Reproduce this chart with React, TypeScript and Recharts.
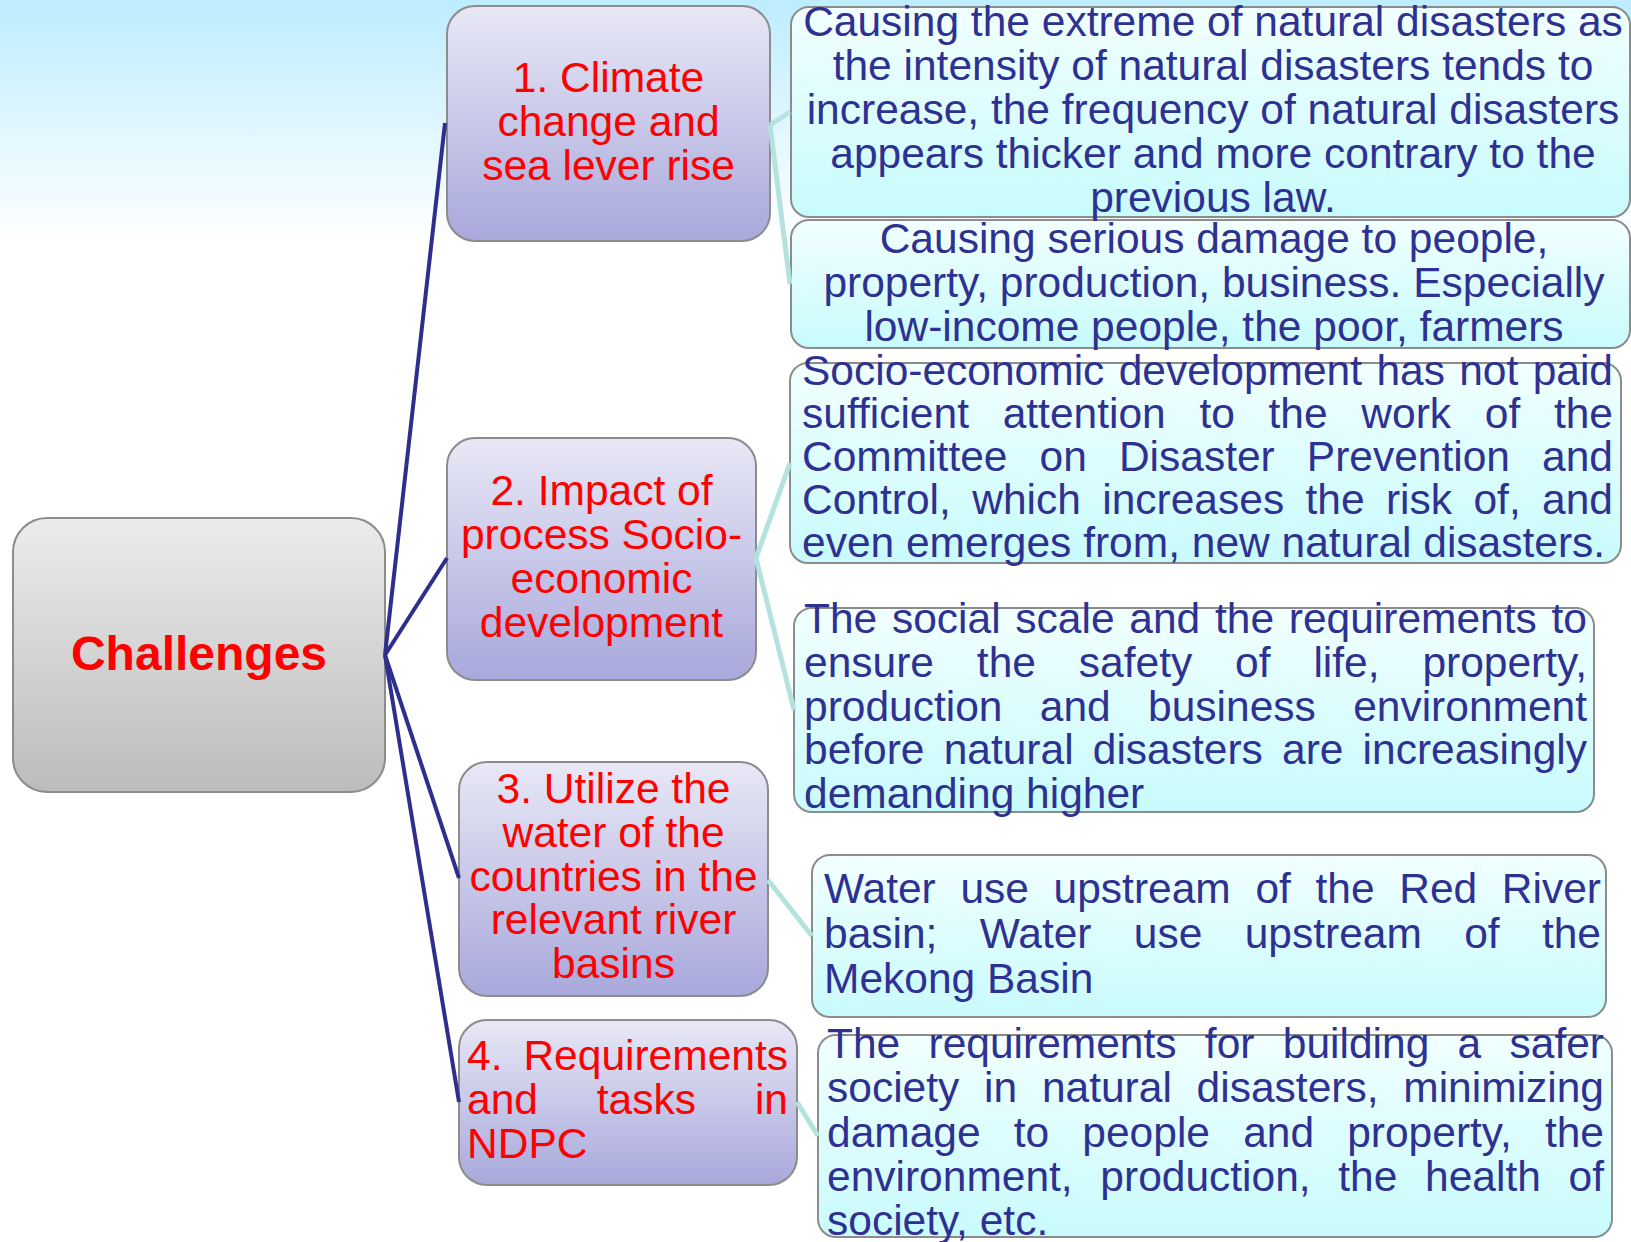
import { ComposedChart, XAxis, YAxis, ReferenceArea, ReferenceLine, Scatter } from 'recharts'

const W = 1631
const H = 1242
const FONT = '"Liberation Sans", Arial, sans-serif'
const SIZE = 42.5
const ROOT_SIZE = 48

const rootLabel = 'Challenges'

const branchLines = [
  ['1. Climate', 'change and', 'sea lever rise'],
  ['2. Impact of', 'process Socio-', 'economic', 'development'],
  ['3. Utilize the', 'water of the', 'countries in the', 'relevant river', 'basins'],
  ['4. Requirements', 'and tasks in', 'NDPC'],
]

const detailLines = [
  [
    'Causing the extreme of natural disasters as',
    'the intensity of natural disasters tends to',
    'increase, the frequency of natural disasters',
    'appears thicker and more contrary to the',
    'previous law.',
  ],
  [
    'Causing serious damage to people,',
    'property, production, business. Especially',
    'low-income people, the poor, farmers',
  ],
  [
    'Socio-economic development has not paid',
    'sufficient attention to the work of the',
    'Committee on Disaster Prevention and',
    'Control, which increases the risk of, and',
    'even emerges from, new natural disasters.',
  ],
  [
    'The social scale and the requirements to',
    'ensure the safety of life, property,',
    'production and business environment',
    'before natural disasters are increasingly',
    'demanding higher',
  ],
  [
    'Water use upstream of the Red River',
    'basin; Water use upstream of the',
    'Mekong Basin',
  ],
  [
    'The requirements for building a safer',
    'society in natural disasters, minimizing',
    'damage to people and property, the',
    'environment, production, the health of',
    'society, etc.',
  ],
]

// which branch each detail hangs from
const detailParent = [0, 0, 1, 1, 2, 3]

// layout in chart units (domain is the page in px)
const rootBox = [13, 385, 518, 792]
const branchBoxes = [
  [447, 770, 6, 241],
  [447, 756, 438, 680],
  [459, 768, 762, 996],
  [459, 797, 1020, 1185],
]
const detailBoxes = [
  [791, 1630, 7, 217],
  [791, 1630, 220, 348],
  [790, 1621, 363, 563],
  [794, 1594, 608, 812],
  [812, 1606, 855, 1017],
  [818, 1612, 1035, 1237],
]
// text blocks: left, right, first baseline, last baseline, align
const rootText = [13, 385, 670, 670, 'center']
const branchText = [
  [447, 770, 92, 180, 'center'],
  [447, 756, 505, 637, 'center'],
  [459, 768, 803, 978, 'center'],
  [467, 788, 1070, 1158, 'justify'],
]
const detailText = [
  [796, 1630, 36, 212, 'center'],
  [798, 1630, 253, 341, 'center'],
  [802, 1613, 385, 557, 'justify'],
  [804, 1587, 633, 808, 'justify'],
  [824, 1601, 903, 993, 'justify'],
  [827, 1604, 1058, 1235, 'justify'],
]
// connector anchors
const rootOut = { x: 385, y: 655 }
const branchIn = [
  { x: 445, y: 123 },
  { x: 447, y: 558 },
  { x: 459, y: 878 },
  { x: 459, y: 1102 },
]
const branchOut = [
  { x: 770, y: 125 },
  { x: 756, y: 558 },
  { x: 768, y: 880 },
  { x: 797, y: 1102 },
]
const detailIn = [
  { x: 790, y: 112 },
  { x: 790, y: 284 },
  { x: 790, y: 463 },
  { x: 794, y: 710 },
  { x: 812, y: 936 },
  { x: 818, y: 1136 },
]

const ctx = document.createElement('canvas').getContext('2d')
const measure = (s: string, weight: string, size: number) => {
  if (!ctx) return s.length * size * 0.5
  ctx.font = `${weight} ${size}px "Liberation Sans"`
  return ctx.measureText(s).width
}

const boxShape = (kind: string, id: string) => (p: any) => {
  const { x, y, width, height } = p
  const stops =
    kind === 'root' ? ['#ececec', '#bcbcbc'] :
    kind === 'branch' ? ['#e8e8f6', '#a8a8dc'] :
    kind === 'bg' ? ['#bdedff', '#ffffff'] :
    ['#f2ffff', '#c8fbfd']
  const r = kind === 'root' ? 34 : kind === 'branch' ? 28 : 18
  return (
    <g>
      <defs>
        <linearGradient id={id} x1="0" y1="0" x2="0" y2="1">
          <stop offset="0%" stopColor={stops[0]} />
          <stop offset="100%" stopColor={stops[1]} />
        </linearGradient>
      </defs>
      {kind === 'bg' ? (
        <rect x={x} y={y} width={width} height={height} fill={`url(#${id})`} />
      ) : (
        <rect x={x} y={y} width={width} height={height} rx={r} ry={r}
          fill={`url(#${id})`} stroke="#8c8c8c" strokeWidth={2} />
      )}
    </g>
  )
}

const textShape = (lines: string[], align: string, color: string, weight = 'normal', size = SIZE) => (p: any) => {
  const { x, y, width, height } = p
  const step = lines.length > 1 ? height / (lines.length - 1) : 0
  return (
    <g fontFamily={FONT} fontSize={size} fontWeight={weight} fill={color}>
      {lines.map((line, i) => {
        const by = y + i * step
        if (align === 'center') {
          return <text key={i} x={x + width / 2} y={by} textAnchor="middle">{line}</text>
        }
        const words = line.split(' ')
        if (i === lines.length - 1 || words.length < 2) {
          return <text key={i} x={x} y={by}>{line}</text>
        }
        const ws = words.map((w) => measure(w, weight, size))
        const gap = (width - ws.reduce((a, b) => a + b, 0)) / (words.length - 1)
        let cx = x
        return (
          <g key={i}>
            {words.map((w, j) => {
              const el = <text key={j} x={cx} y={by}>{w}</text>
              cx += ws[j] + gap
              return el
            })}
          </g>
        )
      })}
    </g>
  )
}

const anchors = [rootOut, ...branchIn, ...branchOut, ...detailIn]

export default function App() {
  return (
    <div>
      <style>{'body{margin:0;background:#fff}'}</style>
      <ComposedChart width={W} height={H} margin={{ top: 0, right: 0, bottom: 0, left: 0 }} data={anchors}>
        <XAxis type="number" dataKey="x" domain={[0, W]} hide allowDataOverflow />
        <YAxis type="number" dataKey="y" domain={[0, H]} reversed hide allowDataOverflow />

        <ReferenceArea x1={0} x2={W} y1={0} y2={240} ifOverflow="visible" shape={boxShape('bg', 'g-bg')} />

        {branchIn.map((b, i) => (
          <ReferenceLine key={`n${i}`} segment={[rootOut, b]} stroke="#2e2f8c" strokeWidth={4} ifOverflow="visible" />
        ))}
        {detailIn.map((d, i) => (
          <ReferenceLine key={`c${i}`} segment={[branchOut[detailParent[i]], d]} stroke="#b4e2de" strokeWidth={5} ifOverflow="visible" />
        ))}

        <ReferenceArea x1={rootBox[0]} x2={rootBox[1]} y1={rootBox[2]} y2={rootBox[3]}
          ifOverflow="visible" shape={boxShape('root', 'g-root')} />
        {branchBoxes.map((b, i) => (
          <ReferenceArea key={`b${i}`} x1={b[0]} x2={b[1]} y1={b[2]} y2={b[3]}
            ifOverflow="visible" shape={boxShape('branch', `g-br${i}`)} />
        ))}
        {detailBoxes.map((b, i) => (
          <ReferenceArea key={`d${i}`} x1={b[0]} x2={b[1]} y1={b[2]} y2={b[3]}
            ifOverflow="visible" shape={boxShape('detail', `g-dt${i}`)} />
        ))}

        <ReferenceArea x1={rootText[0] as number} x2={rootText[1] as number} y1={rootText[2] as number} y2={rootText[3] as number}
          ifOverflow="visible" shape={textShape([rootLabel], 'center', '#ff0000', 'bold', ROOT_SIZE)} />
        {branchText.map((t, i) => (
          <ReferenceArea key={`bt${i}`} x1={t[0] as number} x2={t[1] as number} y1={t[2] as number} y2={t[3] as number}
            ifOverflow="visible" shape={textShape(branchLines[i], t[4] as string, '#ff0000')} />
        ))}
        {detailText.map((t, i) => (
          <ReferenceArea key={`dt${i}`} x1={t[0] as number} x2={t[1] as number} y1={t[2] as number} y2={t[3] as number}
            ifOverflow="visible" shape={textShape(detailLines[i], t[4] as string, '#2e3192')} />
        ))}

        <Scatter dataKey="y" fill="none" isAnimationActive={false} shape={() => <g />} />
      </ComposedChart>
    </div>
  )
}
